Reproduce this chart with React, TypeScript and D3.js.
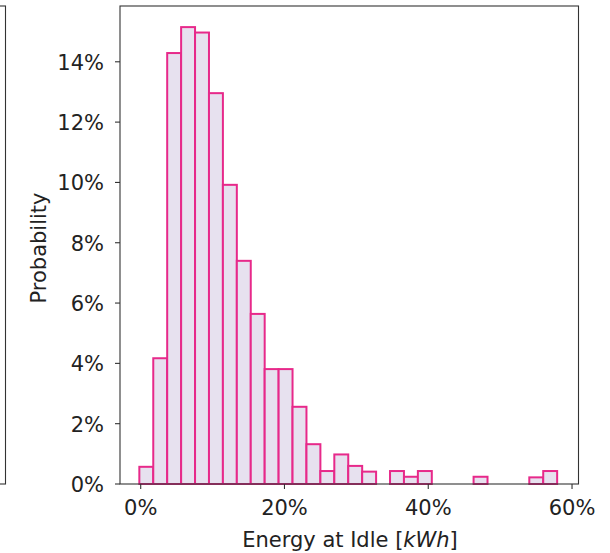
import React from "react";
import * as d3 from "d3";

const binStart = -0.0019;
const binEnd = 0.5793;
const probabilities = [
  0.0057, 0.0417, 0.1429, 0.1515, 0.1497, 0.1296, 0.0992, 0.074, 0.0564, 0.0381,
  0.0381, 0.0256, 0.0132, 0.0043, 0.0098, 0.006, 0.0041, 0, 0.0043, 0.0024,
  0.0043, 0, 0, 0, 0.0024, 0, 0, 0, 0.0022, 0.0043,
];
const xTicks = [0, 0.2, 0.4, 0.6];
const yTicks = [0, 0.02, 0.04, 0.06, 0.08, 0.1, 0.12, 0.14];

const W = 610;
const H = 553;
const left = 120;
const right = 578.5;
const top = 6;
const bottom = 484;
const font = "'DejaVu Sans', sans-serif";
const fs = 21;
const edge = "#e7298a";
const fill = "#e7e1ef";

export default function App() {
  const n = probabilities.length;
  const bw = (binEnd - binStart) / n;
  const x = d3.scaleLinear().domain([-0.0288, 0.609]).range([left, right]);
  const y = d3.scaleLinear().domain([0, 0.1585]).range([bottom, top]);
  const fmt = d3.format(".0%");
  return (
    <svg width={W} height={H} style={{ position: "absolute", left: 0, top: 0, background: "#fff" }}>
      {/* partial neighbouring subplot */}
      <rect x={-20} y={top} width={25.5} height={bottom - top} fill="none" stroke="#333" strokeWidth={1.1} />
      {probabilities.map((p, i) => {
        const x0 = x(binStart + i * bw);
        const x1 = x(binStart + (i + 1) * bw);
        const y0 = y(p);
        return (
          <rect key={i} x={x0} y={y0} width={x1 - x0} height={bottom - y0} fill={fill} stroke={edge} strokeWidth={2} />
        );
      })}
      <rect x={left} y={top} width={right - left} height={bottom - top} fill="none" stroke="#333" strokeWidth={1.1} />
      {yTicks.map((t) => (
        <g key={"y" + t}>
          <line x1={left - 5} x2={left} y1={y(t)} y2={y(t)} stroke="#333" strokeWidth={1.1} />
          <text x={left - 16} y={y(t) + 8} textAnchor="end" fontFamily={font} fontSize={fs} fill="#222">
            {fmt(t)}
          </text>
        </g>
      ))}
      {xTicks.map((t) => (
        <g key={"x" + t}>
          <line x1={x(t)} x2={x(t)} y1={bottom} y2={bottom + 5} stroke="#333" strokeWidth={1.1} />
          <text x={x(t)} y={515} textAnchor="middle" fontFamily={font} fontSize={fs} fill="#222">
            {fmt(t)}
          </text>
        </g>
      ))}
      <text x={350} y={546.5} textAnchor="middle" fontFamily={font} fontSize={fs} fill="#222">
        Energy at Idle [<tspan fontStyle="italic">kWh</tspan>]
      </text>
      <text
        transform={`translate(45.5,248) rotate(-90)`}
        textAnchor="middle"
        fontFamily={font}
        fontSize={fs}
        fill="#222"
      >
        Probability
      </text>
    </svg>
  );
}
